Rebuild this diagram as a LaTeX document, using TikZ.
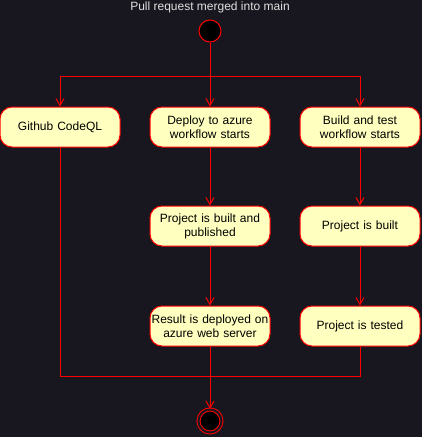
\documentclass[tikz,border=0pt]{standalone}
\usepackage{fontspec}
\setmainfont{Liberation Sans}
\usepackage{tikz}
\usetikzlibrary {arrows.meta,
                 positioning}
\definecolor{bgdark}{HTML}{18161F}
\definecolor{actfill}{HTML}{FFFFC0}
\definecolor{flowred}{HTML}{FF0000}
\tikzset{
        base/.style={draw=flowred, line width=1pt, align=center, font=\fontsize{12}{14}\selectfont},
        act/.style={base, rectangle, rounded corners=12pt, fill=actfill,
                    minimum width=120pt, minimum height=40pt, text width=118pt,
                    inner sep=0pt},
        startdot/.style={base, circle, fill=black, minimum size=22pt, inner sep=0pt},
        enddot/.style={base, circle, double=bgdark, double distance=2pt, fill=black,
                       minimum size=23pt, inner sep=0pt},
        myarrow/.style={-{Straight Barb[length=7pt, width=8pt]}, draw=flowred, line width=1pt},
        flow/.style={draw=flowred, line width=1pt},
 }

\begin{document}
\begin{tikzpicture}[x=1pt, y=-1pt]
    \useasboundingbox[fill=bgdark] (0,0) rectangle (422,437);

    \node[font=\fontsize{12}{14}\selectfont, text=white!88!black] (title) at (210,7) {Pull request merged into main};
    \node[startdot] (start) at (210,31) {};

    \node[act] (codeql) at (60,127) {Github CodeQL};
    \node[act] (deploy) at (210,127) {Deploy to azure\\workflow starts};
    \node[act] (build) at (360,127) {Build and test\\workflow starts};

    \node[act] (published) at (210,226) {Project is built and\\published};
    \node[act] (built) at (360,226) {Project is built};

    \node[act] (server) at (210,326) {Result is deployed on\\azure web server};
    \node[act] (tested) at (360,326) {Project is tested};

    \node[enddot] (stop) at (210,421) {};

    \coordinate (fork) at (210,76);
    \coordinate (join) at (210,376);

    % fork
    \draw[myarrow] (start) -- (deploy);
    \draw[myarrow] (fork) -| (codeql);
    \draw[myarrow] (fork) -| (build);

    % deploy branch
    \draw[myarrow] (deploy) -- (published);
    \draw[myarrow] (published) -- (server);

    % build branch
    \draw[myarrow] (build) -- (built);
    \draw[myarrow] (built) -- (tested);

    % join
    \draw[flow] (codeql) |- (join);
    \draw[flow] (tested) |- (join);
    \draw[myarrow] (server) -- (stop);

\end{tikzpicture}
\end{document}
